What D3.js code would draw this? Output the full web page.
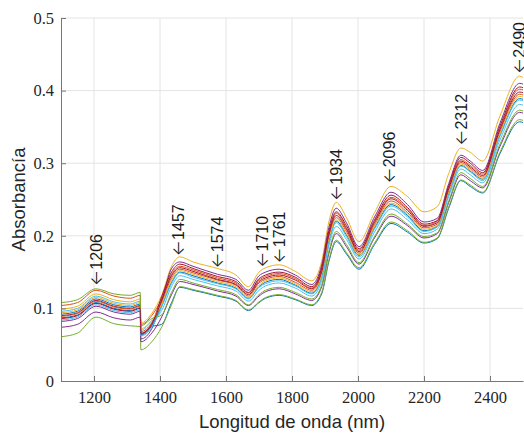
<!DOCTYPE html>
<html>
<head>
<meta charset="utf-8">
<title>Espectros NIR</title>
<script src="https://d3js.org/d3.v7.min.js"></script>
<style>
    body { margin: 0; background: #fff; }
    .grid line { stroke: #e4e4e4; stroke-width: 1; }
    .axis path, .axis line { stroke: #777; }
    .label { font-family: "Liberation Sans", Arial, sans-serif; font-size: 18.5px; fill: #262626; }
    .peak { font-family: "Liberation Sans", Arial, sans-serif; font-size: 16px; fill: #1a1a1a; }
    .arrow { font-family: Inter, "DejaVu Sans", sans-serif; font-size: 17px; font-weight: 300; }
    .line { fill: none; stroke-width: 1; }
</style>
</head>
<body>
<div id="chart"></div>
<script>

// longitudes de onda (nm) donde se leyeron los espectros
var wavelengths = [1100, 1150, 1206, 1260, 1310, 1340,
    1342, 1375, 1405, 1435, 1460, 1500, 1574, 1630, 1668, 1700, 1720, 1761, 1810, 1860,
    1890, 1912, 1934, 1965, 2003, 2050, 2100, 2150, 2200, 2240, 2275, 2312, 2340, 2378,
    2430, 2490, 2500];

// absorbancia de cada muestra
var spec1  = [.092,.096,.113,.105,.102,.106, .064,.075,.078,.108,.129,.125,.117,.110,.097,.108,.114,.118,.112,.104,.120,.165,.192,.175,.154,.188,.217,.205,.190,.196,.238,.276,.268,.259,.313,.357,.356];
var spec2  = [.104,.108,.125,.117,.114,.118, .078,.090,.113,.147,.158,.153,.142,.135,.121,.139,.144,.148,.141,.128,.154,.204,.231,.211,.180,.220,.253,.237,.214,.220,.267,.305,.297,.285,.348,.402,.401];
var spec3  = [.099,.103,.120,.112,.109,.113, .080,.093,.118,.158,.171,.164,.155,.146,.130,.150,.156,.160,.151,.138,.165,.220,.246,.225,.192,.232,.268,.254,.233,.240,.286,.321,.315,.303,.365,.420,.418];
var spec4  = [.082,.086,.103,.095,.092,.096, .058,.072,.110,.155,.164,.158,.147,.140,.125,.145,.150,.154,.146,.133,.160,.212,.238,.218,.185,.226,.260,.243,.219,.224,.272,.311,.303,.290,.355,.410,.409];
var spec5  = [.061,.066,.088,.079,.076,.075, .043,.054,.074,.105,.130,.126,.118,.111,.098,.109,.115,.119,.113,.105,.122,.167,.194,.177,.156,.190,.219,.207,.191,.197,.240,.277,.270,.260,.315,.360,.359];
var spec6  = [.096,.100,.117,.109,.106,.110, .070,.082,.097,.130,.145,.140,.131,.124,.110,.125,.131,.135,.128,.117,.138,.187,.213,.195,.168,.205,.237,.222,.203,.209,.254,.292,.284,.273,.332,.381,.380];
var spec7  = [.090,.094,.111,.103,.100,.104, .066,.079,.116,.150,.161,.155,.144,.137,.122,.141,.146,.150,.143,.130,.156,.207,.233,.214,.182,.222,.256,.239,.216,.221,.269,.308,.300,.287,.351,.405,.404];
var spec8  = [.087,.091,.108,.100,.097,.101, .063,.076,.103,.136,.150,.145,.135,.128,.114,.130,.136,.140,.132,.121,.144,.193,.220,.201,.173,.211,.243,.228,.207,.213,.258,.297,.289,.278,.338,.389,.388];
var spec9  = [.089,.093,.110,.102,.099,.103, .068,.080,.108,.142,.154,.149,.139,.132,.117,.135,.140,.144,.136,.125,.149,.199,.225,.206,.176,.215,.248,.232,.211,.216,.262,.301,.293,.281,.343,.395,.394];
var spec10 = [.094,.098,.115,.107,.104,.108, .072,.084,.106,.139,.152,.147,.137,.130,.115,.132,.138,.142,.134,.123,.146,.196,.222,.203,.174,.213,.245,.230,.209,.214,.260,.299,.291,.279,.341,.392,.391];
var spec11 = [.074,.078,.095,.087,.084,.088, .054,.066,.088,.119,.137,.133,.124,.117,.104,.117,.123,.127,.120,.111,.130,.176,.203,.185,.161,.197,.227,.214,.197,.203,.246,.284,.276,.266,.323,.370,.369];
var spec12 = [.108,.112,.127,.120,.118,.122, .076,.086,.091,.122,.140,.135,.126,.119,.105,.119,.125,.129,.122,.113,.132,.179,.206,.188,.163,.199,.230,.216,.199,.204,.248,.287,.279,.268,.326,.373,.372];
var spec13 = [.084,.088,.105,.097,.094,.098, .062,.074,.102,.134,.149,.143,.134,.127,.113,.129,.134,.138,.131,.120,.142,.191,.218,.199,.171,.209,.241,.226,.206,.212,.257,.296,.288,.276,.337,.387,.386];
var spec14 = [.086,.090,.107,.099,.096,.100, .065,.078,.111,.145,.156,.151,.140,.133,.119,.137,.142,.146,.139,.127,.151,.202,.228,.209,.178,.218,.251,.235,.213,.218,.265,.303,.295,.283,.346,.398,.397];

// picos anotados
var peakNm  = [1206, 1457, 1574, 1710, 1761, 1934, 2096, 2312, 2490];
var peakAbs = [0.131, 0.172, 0.155, 0.156, 0.162, 0.248, 0.272, 0.324, 0.423];

// ejes
var xTicks = [1200, 1400, 1600, 1800, 2000, 2200, 2400];
var yTicks = [0, 0.1, 0.2, 0.3, 0.4, 0.5];

// orden de colores de MATLAB
var colors = ["#0072BD", "#D95319", "#EDB120", "#7E2F8E", "#77AC30", "#4DBEEE", "#A2142F"];

var spectra = [spec1, spec2, spec3, spec4, spec5, spec6, spec7,
               spec8, spec9, spec10, spec11, spec12, spec13, spec14];


/****************************
 svg
****************************/
var W = 524, H = 434;
var margin = {top: 18, right: 1, bottom: 53, left: 61},
    width = W - margin.left - margin.right,
    height = H - margin.top - margin.bottom;

var svg = d3.select("#chart").append("svg")
    .attr("width", W)
    .attr("height", H)
    .append("g")
    .attr("transform", "translate(" + margin.left + "," + margin.top + ")");

var xScale = d3.scaleLinear().domain([1100, 2500]).range([0, width]);
var yScale = d3.scaleLinear().domain([0, 0.5]).range([height, 0]);

// rejilla
var grid = svg.append("g").attr("class", "grid");
grid.selectAll(".gx").data(xTicks).enter().append("line")
    .attr("x1", d => xScale(d)).attr("x2", d => xScale(d))
    .attr("y1", 0).attr("y2", height);
grid.selectAll(".gy").data(yTicks.slice(1)).enter().append("line")
    .attr("x1", 0).attr("x2", width)
    .attr("y1", d => yScale(d)).attr("y2", d => yScale(d));

/****************************
 espectros
****************************/
var line = d3.line()
    .x((d, i) => xScale(wavelengths[i]))
    .y(d => yScale(d))
    .curve(d3.curveMonotoneX);

svg.selectAll(".line")
    .data(spectra)
    .enter().append("path")
    .attr("class", "line")
    .style("stroke", (d, i) => colors[i % colors.length])
    .attr("d", d => line(d));

/****************************
 ejes
****************************/
var xAxis = svg.append("g")
    .attr("class", "axis")
    .attr("transform", "translate(0," + height + ")")
    .call(d3.axisBottom(xScale).tickValues(xTicks).tickSizeInner(-5).tickSizeOuter(0)
        .tickPadding(10).tickFormat(d3.format("d")));

var yAxis = svg.append("g")
    .attr("class", "axis")
    .call(d3.axisLeft(yScale).tickValues(yTicks).tickSizeInner(-5).tickSizeOuter(0)
        .tickPadding(7).tickFormat(d => d === 0 ? "0" : d3.format(".1f")(d)));

// fuente tipo LaTeX para los números de los ejes
[xAxis, yAxis].forEach(function(g) {
    g.attr("font-family", "'Liberation Serif', 'DejaVu Serif', serif")
     .attr("font-size", 16.5);
    g.selectAll("text").attr("fill", "#262626");
});

svg.append("text")
    .attr("class", "label")
    .attr("x", width / 2)
    .attr("y", height + 47)
    .style("text-anchor", "middle")
    .text("Longitud de onda (nm)");

svg.append("text")
    .attr("class", "label")
    .attr("transform", "translate(" + (25 - margin.left) + "," + (height / 2) + ") rotate(-90)")
    .style("text-anchor", "middle")
    .text("Absorbancía");

/****************************
 anotaciones de picos
****************************/
var peaks = svg.selectAll(".peak")
    .data(peakNm)
    .enter().append("text")
    .attr("class", "peak")
    .attr("transform", (d, i) => "translate(" + xScale(d) + "," + yScale(peakAbs[i]) + ") rotate(-90)")
    .attr("dy", "0.35em");

peaks.append("tspan").attr("class", "arrow").text("\u2190");
peaks.append("tspan").text(d => d);

</script>
</body>
</html>
